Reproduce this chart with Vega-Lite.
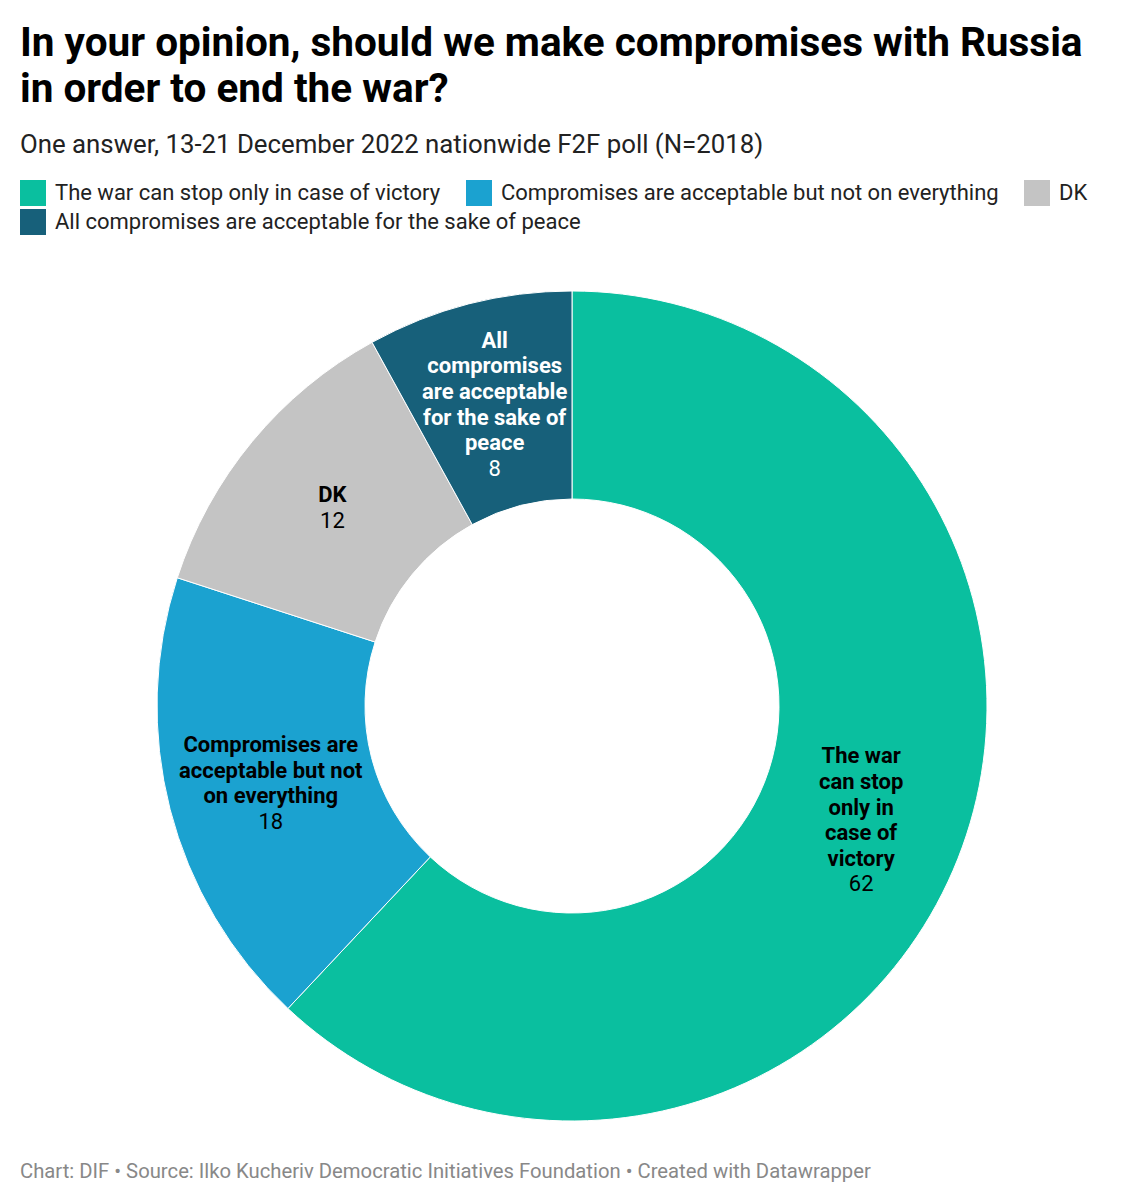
{
  "$schema": "https://vega.github.io/schema/vega-lite/v6.json",
  "background": "white",
  "padding": {"left": 20, "top": 23, "right": 21, "bottom": 5},
  "title": {
    "text": ["In your opinion, should we make compromises with Russia", "in order to end the war?"],
    "subtitle": "One answer, 13-21 December 2022 nationwide F2F poll (N=2018)",
    "anchor": "start",
    "frame": "group",
    "font": "Roboto",
    "fontSize": 40.5,
    "fontWeight": "bold",
    "color": "#000000",
    "lineHeight": 46,
    "subtitleFont": "Roboto",
    "subtitleFontSize": 25.8,
    "subtitleColor": "#222222",
    "subtitlePadding": 23,
    "offset": 22
  },
  "datasets": {
    "poll": [
      {"answer": "The war can stop only in case of victory", "value": 62, "order": 1, "label": "The war|can stop|only in|case of|victory"},
      {"answer": "Compromises are acceptable but not on everything", "value": 18, "order": 2, "label": "Compromises are|acceptable but not|on everything"},
      {"answer": "DK", "value": 12, "order": 3, "label": "DK"},
      {"answer": "All compromises are acceptable for the sake of peace", "value": 8, "order": 4, "label": "All|compromises|are acceptable|for the sake of|peace"}
    ]
  },
  "config": {
    "view": {"stroke": null},
    "legend": {
      "title": null,
      "padding": 0,
      "symbolType": "square",
      "symbolSize": 676,
      "symbolStrokeWidth": 0,
      "symbolOpacity": 1,
      "labelFont": "Roboto",
      "labelFontSize": 22,
      "labelColor": "#222222",
      "labelOffset": 9,
      "labelLimit": 0,
      "columnPadding": 25
    }
  },
  "vconcat": [
    {
      "width": 1104,
      "height": 830,
      "title": {
        "text": "Chart: DIF • Source: Ilko Kucheriv Democratic Initiatives Foundation • Created with Datawrapper",
        "orient": "bottom",
        "anchor": "start",
        "font": "Roboto",
        "fontSize": 20.25,
        "fontWeight": "normal",
        "color": "#888888",
        "offset": 39
      },
      "data": {"name": "poll"},
      "encoding": {
        "theta": {"field": "value", "type": "quantitative", "stack": true},
        "order": {"field": "order", "type": "quantitative"}
      },
      "layer": [
        {
          "mark": {"type": "arc", "radius": 415, "radius2": 207, "stroke": "white", "strokeWidth": 1},
          "encoding": {
            "fill": {
              "field": "answer",
              "type": "nominal",
              "scale": {
                "domain": ["All compromises are acceptable for the sake of peace"],
                "range": ["#17607a"]
              },
              "legend": {
                "orient": "none",
                "legendX": 0,
                "legendY": -82,
                "direction": "horizontal"
              }
            }
          }
        },
        {
          "mark": {"type": "arc", "radius": 415, "radius2": 207, "stroke": "white", "strokeWidth": 1},
          "encoding": {
            "color": {
              "field": "answer",
              "type": "nominal",
              "scale": {
                "domain": ["The war can stop only in case of victory", "Compromises are acceptable but not on everything", "DK", "All compromises are acceptable for the sake of peace"],
                "range": ["#0abf9f", "#1ba2d0", "#c4c4c4", "#17607a"]
              },
              "legend": {
                "orient": "none",
                "legendX": 0,
                "legendY": -111,
                "direction": "horizontal",
                "values": ["The war can stop only in case of victory", "Compromises are acceptable but not on everything", "DK"]
              }
            }
          }
        },
        {
          "mark": {"type": "text", "radius": 311, "font": "Roboto", "fontSize": 22, "fontWeight": "bold", "lineBreak": "|", "lineHeight": 25.6, "baseline": "middle", "align": "center", "dy": -64},
          "encoding": {
            "text": {"condition": {"test": "datum.order === 1 || datum.order === 4", "field": "label", "type": "nominal"}, "value": ""},
            "detail": {"field": "answer", "type": "nominal"},
            "color": {"condition": {"test": "datum.order === 4", "value": "#ffffff"}, "value": "#000000"}
          }
        },
        {
          "mark": {"type": "text", "radius": 311, "font": "Roboto", "fontSize": 22, "fontWeight": "normal", "baseline": "middle", "align": "center", "dy": 64},
          "encoding": {
            "text": {"condition": {"test": "datum.order === 1 || datum.order === 4", "field": "value", "type": "quantitative"}, "value": ""},
            "detail": {"field": "answer", "type": "nominal"},
            "color": {"condition": {"test": "datum.order === 4", "value": "#ffffff"}, "value": "#000000"}
          }
        },
        {
          "mark": {"type": "text", "radius": 311, "font": "Roboto", "fontSize": 22, "fontWeight": "bold", "lineBreak": "|", "lineHeight": 25.6, "baseline": "middle", "align": "center", "dy": -38.4},
          "encoding": {
            "text": {"condition": {"test": "datum.order === 2", "field": "label", "type": "nominal"}, "value": ""},
            "detail": {"field": "answer", "type": "nominal"},
            "color": {"value": "#000000"}
          }
        },
        {
          "mark": {"type": "text", "radius": 311, "font": "Roboto", "fontSize": 22, "fontWeight": "normal", "baseline": "middle", "align": "center", "dy": 38.4},
          "encoding": {
            "text": {"condition": {"test": "datum.order === 2", "field": "value", "type": "quantitative"}, "value": ""},
            "detail": {"field": "answer", "type": "nominal"},
            "color": {"value": "#000000"}
          }
        },
        {
          "mark": {"type": "text", "radius": 311, "font": "Roboto", "fontSize": 22, "fontWeight": "bold", "lineBreak": "|", "lineHeight": 25.6, "baseline": "middle", "align": "center", "dy": -12.8},
          "encoding": {
            "text": {"condition": {"test": "datum.order === 3", "field": "label", "type": "nominal"}, "value": ""},
            "detail": {"field": "answer", "type": "nominal"},
            "color": {"value": "#000000"}
          }
        },
        {
          "mark": {"type": "text", "radius": 311, "font": "Roboto", "fontSize": 22, "fontWeight": "normal", "baseline": "middle", "align": "center", "dy": 12.8},
          "encoding": {
            "text": {"condition": {"test": "datum.order === 3", "field": "value", "type": "quantitative"}, "value": ""},
            "detail": {"field": "answer", "type": "nominal"},
            "color": {"value": "#000000"}
          }
        }
      ]
    }
  ]
}
